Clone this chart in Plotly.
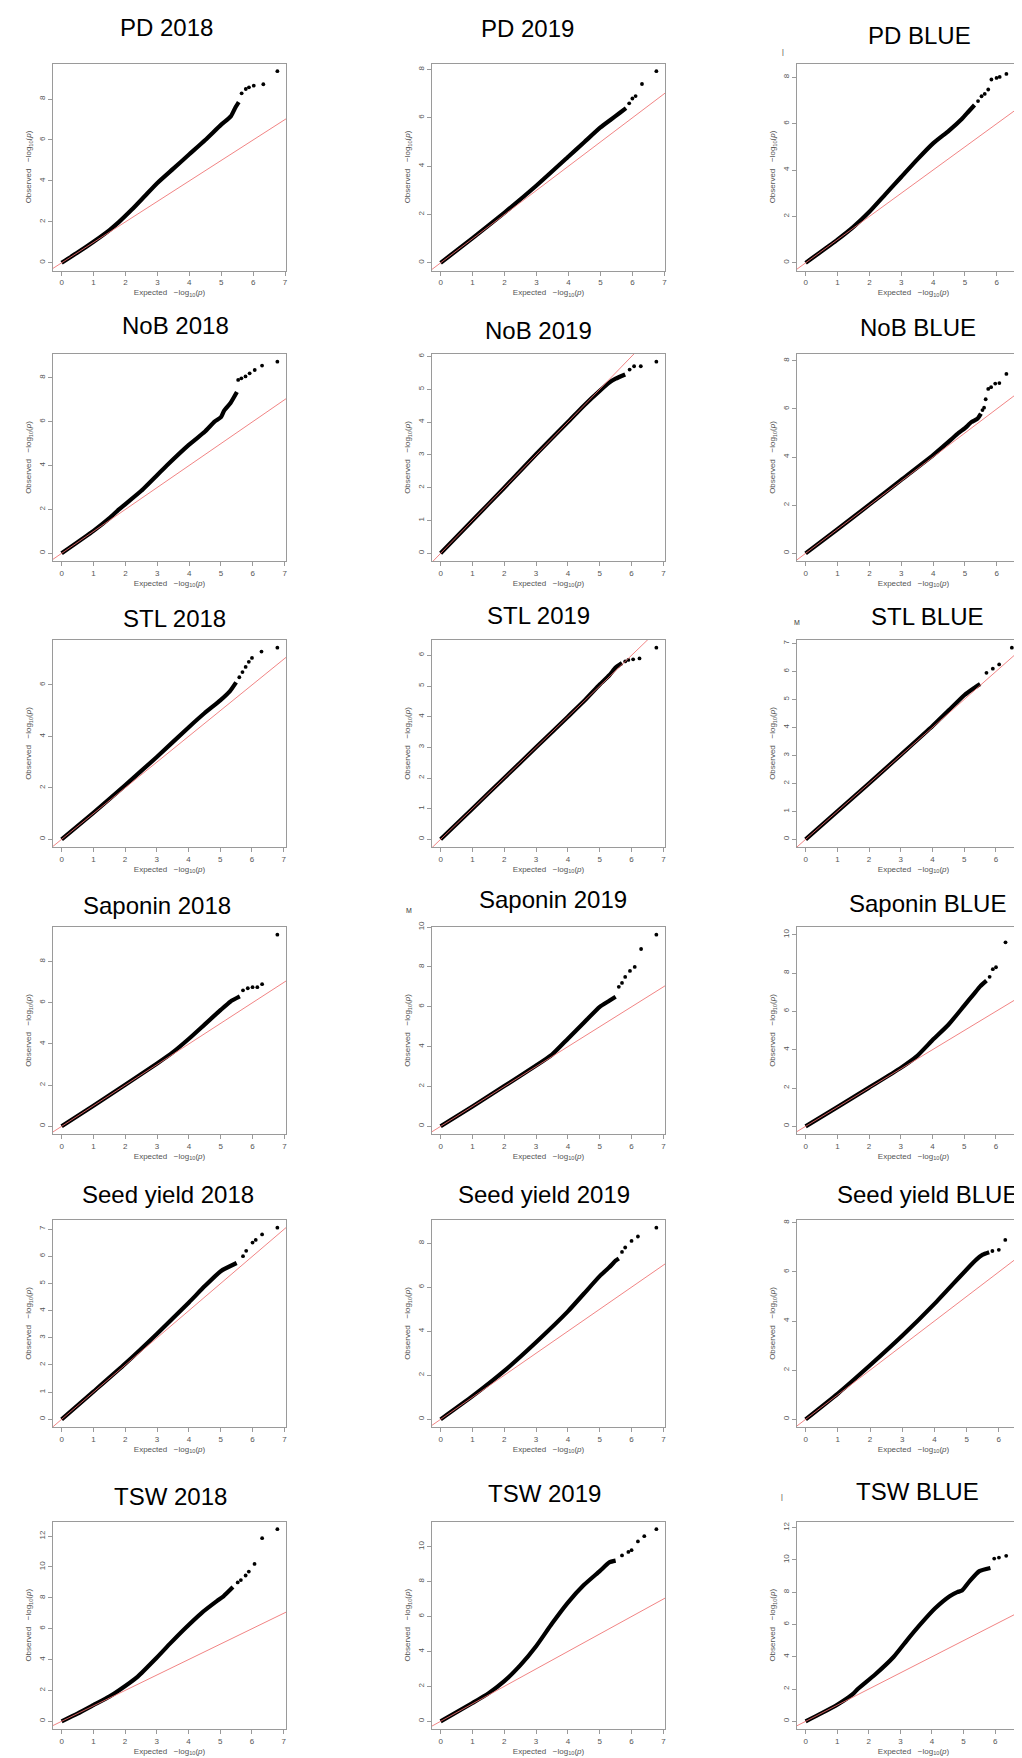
import plotly.graph_objects as go

W, H = 1022, 1758

# ---------------- data (expected vs observed -log10 p) ----------------
TITLES = ["PD 2018", "PD 2019", "PD BLUE",
          "NoB 2018", "NoB 2019", "NoB BLUE",
          "STL 2018", "STL 2019", "STL BLUE",
          "Saponin 2018", "Saponin 2019", "Saponin BLUE",
          "Seed yield 2018", "Seed yield 2019", "Seed yield BLUE",
          "TSW 2018", "TSW 2019", "TSW BLUE"]

YTICK_STEP = [2, 2, 2, 2, 1, 2, 2, 1, 1, 2, 2, 2, 1, 2, 2, 2, 2, 2]

PD_2018_X = [0, 0.5, 1, 1.5, 1.8, 2.2, 2.6, 3, 3.5, 4, 4.5, 5, 5.3, 5.45, 5.55]
PD_2018_Y = [0, 0.5, 1.03, 1.6, 2.0, 2.6, 3.25, 3.9, 4.6, 5.3, 6.0, 6.75, 7.15, 7.6, 7.85]
PD_2018_TX = [5.64, 5.77, 5.87, 6.02, 6.32, 6.76]
PD_2018_TY = [8.28, 8.49, 8.57, 8.65, 8.72, 9.36]

PD_2019_X = [0, 1, 2, 3, 4, 4.5, 5, 5.3, 5.6, 5.8]
PD_2019_Y = [0, 1.02, 2.08, 3.2, 4.4, 5.0, 5.6, 5.9, 6.2, 6.4]
PD_2019_TX = [5.9, 6.0, 6.1, 6.3, 6.75]
PD_2019_TY = [6.6, 6.8, 6.9, 7.4, 7.93]

PD_BLUE_X = [0, 1, 1.5, 2, 2.5, 3, 3.5, 4, 4.5, 4.9, 5.1, 5.3]
PD_BLUE_Y = [0, 1.0, 1.55, 2.2, 2.95, 3.7, 4.45, 5.15, 5.7, 6.2, 6.5, 6.8]
PD_BLUE_TX = [5.41, 5.52, 5.62, 5.73, 5.83, 5.99, 6.09, 6.3, 6.77]
PD_BLUE_TY = [6.97, 7.18, 7.28, 7.47, 7.9, 7.97, 8.01, 8.14, 8.26]

NOB_2018_X = [0, 1, 1.5, 1.8, 2.5, 3.3, 4, 4.5, 4.8, 5.0, 5.1, 5.3, 5.5]
NOB_2018_Y = [0, 1.02, 1.6, 2.0, 2.85, 4.0, 4.95, 5.55, 6.0, 6.2, 6.5, 6.85, 7.35]
NOB_2018_TX = [5.54, 5.64, 5.77, 5.9, 6.06, 6.29, 6.77]
NOB_2018_TY = [7.9, 7.97, 8.06, 8.2, 8.35, 8.55, 8.73]

NOB_2019_X = [0, 1, 2, 3, 4, 4.5, 5.0, 5.3, 5.5, 5.8]
NOB_2019_Y = [0, 1.0, 2.0, 3.02, 4.0, 4.5, 4.95, 5.2, 5.32, 5.45]
NOB_2019_TX = [5.94, 6.08, 6.29, 6.78]
NOB_2019_TY = [5.6, 5.7, 5.7, 5.84]

NOB_BLUE_X = [0, 1, 2, 3, 4, 4.5, 4.8, 5.0, 5.2, 5.4, 5.5]
NOB_BLUE_Y = [0, 1.0, 2.02, 3.05, 4.08, 4.65, 5.0, 5.2, 5.45, 5.6, 5.8]
NOB_BLUE_TX = [5.55, 5.6, 5.65, 5.73, 5.82, 5.95, 6.08, 6.3, 6.77]
NOB_BLUE_TY = [5.95, 6.05, 6.4, 6.83, 6.9, 7.05, 7.07, 7.45, 7.96]

STL_2018_X = [0, 1, 2, 3, 4, 4.5, 5, 5.3, 5.5]
STL_2018_Y = [0, 1.03, 2.1, 3.2, 4.35, 4.9, 5.4, 5.75, 6.1]
STL_2018_TX = [5.6, 5.7, 5.8, 5.9, 6.0, 6.3, 6.8]
STL_2018_TY = [6.3, 6.5, 6.7, 6.9, 7.05, 7.3, 7.45]

STL_2019_X = [0, 1, 2, 3, 4, 4.5, 5, 5.3, 5.5, 5.7]
STL_2019_Y = [0, 1, 2, 3, 4, 4.5, 5.05, 5.35, 5.6, 5.75]
STL_2019_TX = [5.8, 5.9, 6.05, 6.25, 6.78]
STL_2019_TY = [5.8, 5.85, 5.87, 5.9, 6.25]

STL_BLUE_X = [0, 1, 2, 3, 4, 4.5, 5, 5.3, 5.5]
STL_BLUE_Y = [0, 1, 2, 3.02, 4.05, 4.6, 5.15, 5.4, 5.55]
STL_BLUE_TX = [5.7, 5.9, 6.1, 6.5, 6.8]
STL_BLUE_TY = [5.95, 6.1, 6.25, 6.85, 6.85]

SAP_2018_X = [0, 1, 2, 3, 3.5, 4, 4.5, 5, 5.3, 5.6]
SAP_2018_Y = [0, 1, 2.02, 3.05, 3.6, 4.25, 4.95, 5.65, 6.05, 6.3]
SAP_2018_TX = [5.7, 5.85, 6.0, 6.15, 6.3, 6.78]
SAP_2018_TY = [6.6, 6.7, 6.75, 6.75, 6.9, 9.3]

SAP_2019_X = [0, 1, 2, 3, 3.5, 4, 4.5, 5, 5.3, 5.5]
SAP_2019_Y = [0, 1, 2.02, 3.05, 3.6, 4.4, 5.2, 6.0, 6.3, 6.5]
SAP_2019_TX = [5.6, 5.7, 5.8, 5.95, 6.1, 6.3, 6.78]
SAP_2019_TY = [7.0, 7.2, 7.5, 7.8, 8.0, 8.9, 9.62]

SAP_BLUE_X = [0, 1, 2, 3, 3.5, 4, 4.5, 5, 5.3, 5.5, 5.7]
SAP_BLUE_Y = [0, 1, 2.02, 3.05, 3.65, 4.5, 5.3, 6.3, 6.9, 7.3, 7.6]
SAP_BLUE_TX = [5.8, 5.9, 6.0, 6.3, 6.8]
SAP_BLUE_TY = [7.8, 8.2, 8.3, 9.6, 10.0]

SEED_2018_X = [0, 1, 2, 3, 4, 4.5, 5, 5.5]
SEED_2018_Y = [0, 1.02, 2.05, 3.15, 4.3, 4.9, 5.45, 5.75]
SEED_2018_TX = [5.7, 5.8, 6.0, 6.1, 6.3, 6.78]
SEED_2018_TY = [6.0, 6.2, 6.5, 6.6, 6.8, 7.05]

SEED_2019_X = [0, 1, 2, 3, 4, 4.5, 5, 5.3, 5.5, 5.6]
SEED_2019_Y = [0, 1.05, 2.2, 3.5, 4.9, 5.7, 6.5, 6.9, 7.2, 7.3]
SEED_2019_TX = [5.7, 5.8, 6.0, 6.2, 6.78]
SEED_2019_TY = [7.6, 7.8, 8.1, 8.3, 8.7]

SEED_BLUE_X = [0, 1, 2, 3, 4, 5, 5.3, 5.5, 5.7]
SEED_BLUE_Y = [0, 1.05, 2.2, 3.4, 4.7, 6.1, 6.5, 6.7, 6.8]
SEED_BLUE_TX = [5.8, 6.0, 6.2, 6.7]
SEED_BLUE_TY = [6.85, 6.9, 7.3, 7.8]

TSW_2018_X = [0, 0.5, 1, 1.5, 1.8, 2.4, 2.94, 3.4, 3.88, 4.4, 4.9, 5.1, 5.4]
TSW_2018_Y = [0, 0.5, 1.05, 1.6, 2.0, 2.9, 4.0, 5.0, 6.0, 7.0, 7.8, 8.1, 8.7]
TSW_2018_TX = [5.55, 5.65, 5.8, 5.9, 6.08, 6.32, 6.8]
TSW_2018_TY = [9.0, 9.15, 9.45, 9.7, 10.2, 11.87, 12.45]

TSW_2019_X = [0, 1, 1.5, 2, 2.5, 3, 3.5, 4, 4.5, 5, 5.3, 5.5]
TSW_2019_Y = [0, 1.05, 1.6, 2.3, 3.2, 4.3, 5.6, 6.8, 7.8, 8.6, 9.1, 9.2]
TSW_2019_TX = [5.7, 5.9, 6.0, 6.2, 6.4, 6.78]
TSW_2019_TY = [9.5, 9.7, 9.8, 10.3, 10.6, 11.0]

TSW_BLUE_X = [0, 0.5, 1, 1.5, 1.65, 2.2, 2.79, 3.2, 3.63, 4.1, 4.56, 4.8, 4.95, 5.2, 5.5, 5.85]
TSW_BLUE_Y = [0, 0.5, 1.03, 1.7, 2.0, 2.9, 4.0, 5.0, 6.0, 7.0, 7.75, 8.0, 8.1, 8.7, 9.3, 9.5]
TSW_BLUE_TX = [5.97, 6.12, 6.35, 6.83]
TSW_BLUE_TY = [10.08, 10.14, 10.25, 11.9]

DIAG = [-1, 14]  # reference line y = x

PANELS = [
    (PD_2018_X, PD_2018_Y, PD_2018_TX, PD_2018_TY),
    (PD_2019_X, PD_2019_Y, PD_2019_TX, PD_2019_TY),
    (PD_BLUE_X, PD_BLUE_Y, PD_BLUE_TX, PD_BLUE_TY),
    (NOB_2018_X, NOB_2018_Y, NOB_2018_TX, NOB_2018_TY),
    (NOB_2019_X, NOB_2019_Y, NOB_2019_TX, NOB_2019_TY),
    (NOB_BLUE_X, NOB_BLUE_Y, NOB_BLUE_TX, NOB_BLUE_TY),
    (STL_2018_X, STL_2018_Y, STL_2018_TX, STL_2018_TY),
    (STL_2019_X, STL_2019_Y, STL_2019_TX, STL_2019_TY),
    (STL_BLUE_X, STL_BLUE_Y, STL_BLUE_TX, STL_BLUE_TY),
    (SAP_2018_X, SAP_2018_Y, SAP_2018_TX, SAP_2018_TY),
    (SAP_2019_X, SAP_2019_Y, SAP_2019_TX, SAP_2019_TY),
    (SAP_BLUE_X, SAP_BLUE_Y, SAP_BLUE_TX, SAP_BLUE_TY),
    (SEED_2018_X, SEED_2018_Y, SEED_2018_TX, SEED_2018_TY),
    (SEED_2019_X, SEED_2019_Y, SEED_2019_TX, SEED_2019_TY),
    (SEED_BLUE_X, SEED_BLUE_Y, SEED_BLUE_TX, SEED_BLUE_TY),
    (TSW_2018_X, TSW_2018_Y, TSW_2018_TX, TSW_2018_TY),
    (TSW_2019_X, TSW_2019_Y, TSW_2019_TX, TSW_2019_TY),
    (TSW_BLUE_X, TSW_BLUE_Y, TSW_BLUE_TX, TSW_BLUE_TY),
]

# ---------------- layout (pixels) ----------------
COL_X = [(45, 278), (424, 657), (789, 1022)]
ROW_Y = [(55.5, 262.5), (346, 553), (632, 839), (919, 1126), (1212, 1419), (1513.5, 1721)]
TITLE_POS = [(158, 19), (519, 21), (911, 27),
             (167, 317), (530, 322), (910, 320),
             (166, 610), (530, 608), (919, 609),
             (149, 897), (545, 892), (919, 895),
             (160, 1186), (536, 1186), (919, 1186),
             (162, 1488), (536, 1485), (909, 1483)]

AXIS_GREY = "#9a9a9a"
TEXT_GREY = "#555555"
FONT = "Liberation Sans, Arial, sans-serif"

fig = go.Figure()
layout = dict(width=W, height=H, margin=dict(l=0, r=0, t=0, b=0),
              paper_bgcolor="white", plot_bgcolor="white", showlegend=False,
              annotations=[])

for i, (cx, cy, tx, ty) in enumerate(PANELS):
    r, c = divmod(i, 3)
    n = i + 1
    xa = "x" if n == 1 else f"x{n}"
    ya = "y" if n == 1 else f"y{n}"
    fig.add_trace(go.Scatter(x=cx, y=cy, mode="lines", xaxis=xa, yaxis=ya,
                             line=dict(color="black", width=4.2, shape="spline",
                                       smoothing=0.5),
                             hoverinfo="skip"))
    fig.add_trace(go.Scatter(x=tx, y=ty, mode="markers", xaxis=xa, yaxis=ya,
                             marker=dict(color="black", size=3.8),
                             hoverinfo="skip"))
    fig.add_trace(go.Scatter(x=DIAG, y=DIAG, mode="lines", xaxis=xa, yaxis=ya,
                             line=dict(color="rgba(238,110,110,0.85)", width=1),
                             hoverinfo="skip"))
    xmax = max(cx + tx)
    ymax = max(cy + ty)
    x0, x1 = COL_X[c]
    top, bot = ROW_Y[r]
    common = dict(showline=True, linecolor=AXIS_GREY, linewidth=1, mirror=True,
                  ticks="outside", ticklen=4, tickcolor=AXIS_GREY,
                  showgrid=False, zeroline=False, automargin=False,
                  tickfont=dict(family=FONT, size=8, color=TEXT_GREY),
                  tickmode="linear", tick0=0)
    layout["xaxis" if n == 1 else f"xaxis{n}"] = dict(
        common, domain=[x0 / W, x1 / W], anchor=ya,
        range=[-0.04 * xmax, 1.04 * xmax], dtick=1,
        title=dict(text="Expected   \u2212log<sub>10</sub>(<i>p</i>)",
                   font=dict(family=FONT, size=8, color=TEXT_GREY), standoff=3))
    layout["yaxis" if n == 1 else f"yaxis{n}"] = dict(
        common, domain=[1 - bot / H, 1 - top / H], anchor=xa,
        range=[-0.04 * ymax, 1.04 * ymax], dtick=YTICK_STEP[i], tickangle=-90,
        title=dict(text="Observed   \u2212log<sub>10</sub>(<i>p</i>)",
                   font=dict(family=FONT, size=8, color=TEXT_GREY), standoff=4))
    px, py = TITLE_POS[i]
    layout["annotations"].append(dict(
        text=TITLES[i], x=px / W, y=1 - py / H, xref="paper", yref="paper",
        xanchor="center", yanchor="middle", showarrow=False,
        font=dict(family=FONT, size=24, color="black")))

# small stray marks present in the original composite
STRAY = [("|", 778, 38), ("M", 794, 614), ("M", 401, 902), ("|", 777, 1495)]
for t, px, py in STRAY:
    layout["annotations"].append(dict(
        text=t, x=px / W, y=1 - py / H, xref="paper", yref="paper",
        showarrow=False, font=dict(family=FONT, size=7, color="#333333")))

fig.update_layout(**layout)
fig.write_html("out.html")
